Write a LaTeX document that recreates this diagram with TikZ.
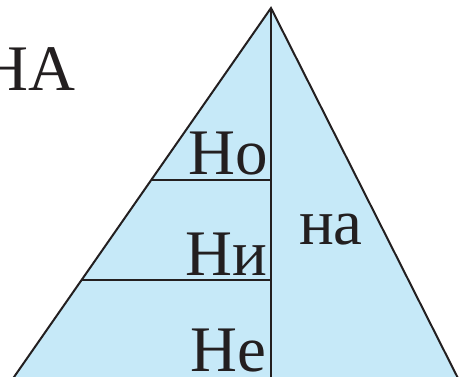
\documentclass[tikz,border=0pt]{standalone}
\usepackage{fontspec}
\setmainfont{Liberation Serif}
\usetikzlibrary{positioning, calc}
\definecolor{cfill}{HTML}{C6E9F8}
\definecolor{cline}{HTML}{231F20}
\tikzset{
  every picture/.style={line width=2pt},
  word/.style={font=\fontsize{65}{65}\selectfont, text=cline, inner sep=0pt},
  rule/.style={draw=cline, line width=1.8pt},
}
\begin{document}
\begin{tikzpicture}[x=1pt, y=-1pt]
  \useasboundingbox (0,0) rectangle (464,376);
  \coordinate (apex) at (271,8);
  \coordinate (bl) at (-2,400);
  \coordinate (br) at (469,400);
  \coordinate (foot) at (271,400);
  \filldraw[fill=cfill, draw=cline] (apex) -- (bl) -- (br) -- cycle;
  \coordinate (l1) at ($(apex)!0.4388!(bl)$);
  \coordinate (l2) at ($(apex)!0.6939!(bl)$);
  \coordinate (m1) at (apex |- l1);
  \coordinate (m2) at (apex |- l2);
  \draw[rule] (apex) -- (foot);
  \draw[rule] (l1) -- (m1);
  \draw[rule] (l2) -- (m2);
  \node[word, anchor=base east] (big) at (76,90) {НА};
  \node[word, anchor=base east] (no) at (269,174) {Но};
  \node[word, anchor=base east] (ni) at (268,275) {Ни};
  \node[word, anchor=base east] (ne) at (267,371) {Не};
  \node[word, anchor=base] (na) at (331,244) {на};
\end{tikzpicture}
\end{document}
